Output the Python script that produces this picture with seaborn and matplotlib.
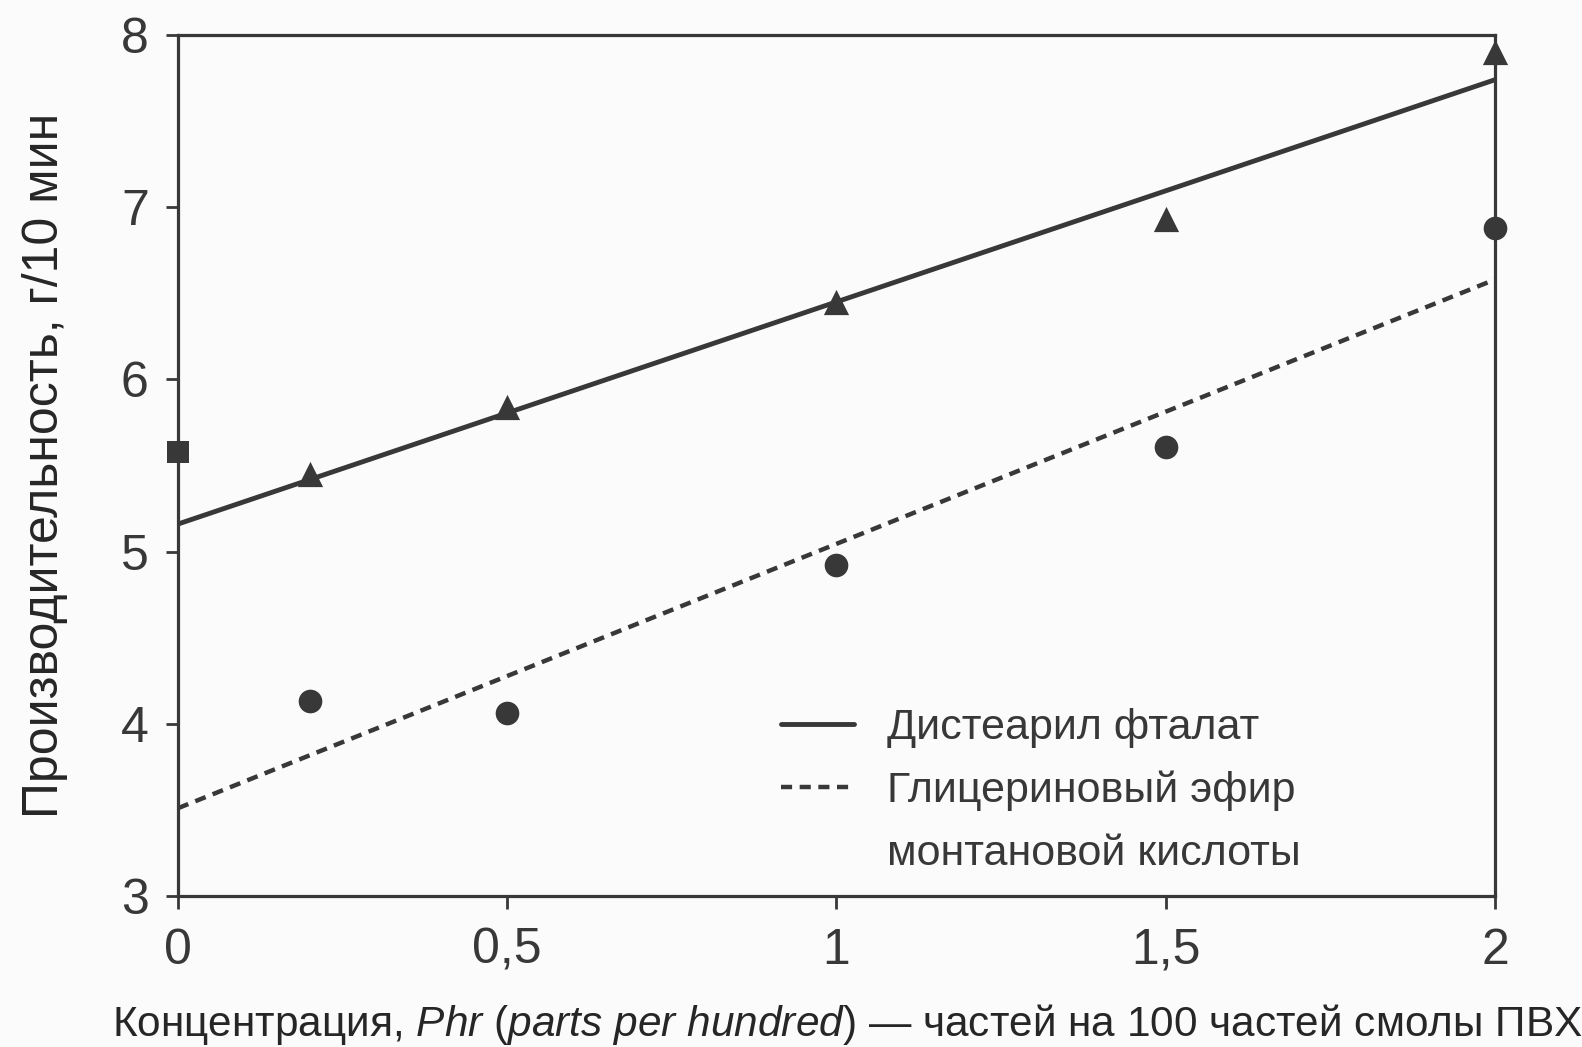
import numpy as np
import pandas as pd
import seaborn as sns
import matplotlib.pyplot as plt
from matplotlib.lines import Line2D
from matplotlib.ticker import FuncFormatter

# Данные
conc_tri = [0.2, 0.5, 1.0, 1.5, 2.0]
prod_tri = [5.45, 5.84, 6.45, 6.93, 7.9]
conc_sq = [0.0]
prod_sq = [5.58]
conc_circ = [0.2, 0.5, 1.0, 1.5, 2.0]
prod_circ = [4.13, 4.06, 4.92, 5.61, 6.88]

# Линии тренда (концы)
fit_x = [0.0, 2.0]
fit_ftalat = [5.16, 7.74]
fit_efir = [3.51, 6.58]

ink = '#383838'

sns.set_theme(style='white')
plt.rcParams['font.family'] = ['Liberation Sans', 'DejaVu Sans']
plt.rcParams['axes.edgecolor'] = ink
plt.rcParams['text.color'] = ink
plt.rcParams['xtick.color'] = ink
plt.rcParams['ytick.color'] = ink
plt.rcParams['mathtext.fontset'] = 'custom'
plt.rcParams['mathtext.it'] = 'Liberation Sans:italic'
plt.rcParams['mathtext.rm'] = 'Liberation Sans'

fig = plt.figure(figsize=(15.82, 10.47), dpi=100, facecolor='#fbfbfb')
ax = fig.add_axes([0.1125, 0.1442, 0.8325, 0.8224])
ax.set_facecolor('#fbfbfb')

df_fit = pd.DataFrame({'x': fit_x + fit_x,
                       'y': fit_ftalat + fit_efir,
                       'ser': ['ftalat'] * 2 + ['efir'] * 2})

sns.lineplot(data=df_fit[df_fit.ser == 'ftalat'], x='x', y='y', ax=ax,
             color=ink, lw=3.5, legend=False)
sns.lineplot(data=df_fit[df_fit.ser == 'efir'], x='x', y='y', ax=ax,
             color=ink, lw=3.2, legend=False)
ax.lines[1].set_dashes((2.5, 1.7))

sns.scatterplot(x=conc_tri, y=prod_tri, ax=ax, marker='^', s=330,
                color=ink, edgecolor=ink, linewidth=0, zorder=5, clip_on=False)
sns.scatterplot(x=conc_sq, y=prod_sq, ax=ax, marker='s', s=260,
                color=ink, edgecolor=ink, linewidth=0, zorder=5, clip_on=False)
sns.scatterplot(x=conc_circ, y=prod_circ, ax=ax, marker='o', s=290,
                color=ink, edgecolor=ink, linewidth=0, zorder=5, clip_on=False)

ax.set_xlim(0, 2)
ax.set_ylim(3, 8)
ax.set_xticks([0, 0.5, 1, 1.5, 2])
ax.set_yticks([3, 4, 5, 6, 7, 8])
ax.xaxis.set_major_formatter(FuncFormatter(lambda v, p: f'{v:g}'.replace('.', ',')))

for s in ax.spines.values():
    s.set_linewidth(2.3)
    s.set_color(ink)

ax.tick_params(axis='both', which='major', direction='out', length=9, width=2,
               labelsize=36, color=ink, left=True, bottom=True)
ax.tick_params(axis='x', pad=14)
ax.tick_params(axis='y', pad=12)

ax.set_xlabel('Концентрация, $\\it{Phr}$ ($\\it{parts\\ per\\ hundred}$) — частей на 100 частей смолы ПВХ',
              fontsize=30.5, labelpad=20)
ax.xaxis.label.set_x(0.508)
ax.set_ylabel('Производительность, г/10 мин', fontsize=36, labelpad=38)

handles = [Line2D([], [], color=ink, lw=3.5),
           Line2D([], [], color=ink, lw=3.2, dashes=(2.5, 1.7)),
           Line2D([], [], color='none')]
labels = ['Дистеарил фталат', 'Глицериновый эфир', 'монтановой кислоты']
ax.legend(handles, labels, loc='upper left', bbox_to_anchor=(0.458, 0.218),
          frameon=False, fontsize=31, handlelength=1.7, handletextpad=0.75,
          labelspacing=0.52, borderpad=0, borderaxespad=0)

fig.savefig('out.png', dpi=100, facecolor=fig.get_facecolor())
